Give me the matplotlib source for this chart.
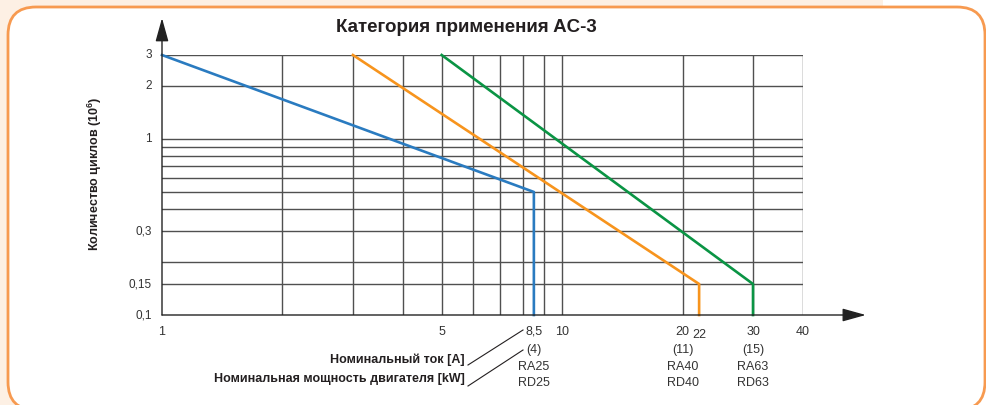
import matplotlib.pyplot as plt
from matplotlib.patches import FancyBboxPatch, Rectangle
from matplotlib.lines import Line2D

plt.rcParams['font.family'] = ['Liberation Sans', 'DejaVu Sans']
plt.rcParams['mathtext.fontset'] = 'custom'
plt.rcParams['mathtext.rm'] = 'Liberation Sans'
plt.rcParams['mathtext.bf'] = 'Liberation Sans:bold'

# Кривые износостойкости (ток, А -> циклы, 10^6)
blue_x = [1, 8.5, 8.5]
blue_y = [3, 0.5, 0.1]
orange_x = [3, 22, 22]
orange_y = [3, 0.15, 0.1]
green_x = [5, 30, 30]
green_y = [3, 0.15, 0.1]

grid_x = [2, 3, 4, 5, 6, 7, 8, 9, 10, 20, 30, 40]
grid_y = [0.15, 0.2, 0.3, 0.4, 0.5, 0.6, 0.7, 0.8, 0.9, 1, 2, 3]

x_ticks = [1, 5, 8.5, 10, 20, 22, 30, 40]
x_labels = ['1', '5', '8,5', '10', '20', '22', '30', '40']
y_ticks = [0.1, 0.15, 0.3, 1, 2, 3]
y_labels = ['0,1', '0,15', '0,3', '1', '2', '3']

rated_x = [8.5, 20, 30]
power_labels = ['(4)', '(11)', '(15)']
device_a = ['RA25', 'RA40', 'RA63']
device_d = ['RD25', 'RD40', 'RD63']

W, H = 986, 405
fig = plt.figure(figsize=(W / 100, H / 100), dpi=100)

# фон и рамка
fig.patches.append(Rectangle((0, 0), 883, H, transform=None,
                             facecolor='#fdf0e4', edgecolor='none', zorder=-3))
fig.patches.append(FancyBboxPatch((8, -5), 977, H - 7 + 5,
                                  boxstyle='round,pad=0,rounding_size=28',
                                  transform=None, facecolor='white',
                                  edgecolor='#f79a50', linewidth=2.0, zorder=-2))

ax = fig.add_axes([162 / W, (H - 315) / H, (803 - 162) / W, (315 - 55) / H])
ax.set_facecolor('none')
ax.set_xscale('log')
ax.set_yscale('log')
ax.set_xlim(1, 40)
ax.set_ylim(0.1, 3)
for s in ax.spines.values():
    s.set_visible(False)
ax.set_xticks([])
ax.set_yticks([])
ax.minorticks_off()

for gx in grid_x:
    ax.axvline(gx, color='#505050', lw=1.0, zorder=1)
for gy in grid_y:
    ax.axhline(gy, color='#505050', lw=1.0, zorder=1)

ax.plot(blue_x, blue_y, color='#2a7bc0', lw=1.9, zorder=3, clip_on=False)
ax.plot(orange_x, orange_y, color='#f7941d', lw=1.9, zorder=3, clip_on=False)
ax.plot(green_x, green_y, color='#0a9444', lw=1.9, zorder=3, clip_on=False)

# оси со стрелками
ax.annotate('', xy=(0, 1.142), xytext=(0, 0), xycoords='axes fraction',
            arrowprops=dict(arrowstyle='-|>,head_length=0.72,head_width=0.2',
                            mutation_scale=20, color='#222222', lw=1.0,
                            shrinkA=0, shrinkB=0), zorder=4)
ax.annotate('', xy=(1.098, 0), xytext=(0, 0), xycoords='axes fraction',
            arrowprops=dict(arrowstyle='-|>,head_length=0.72,head_width=0.2',
                            mutation_scale=20, color='#222222', lw=1.0,
                            shrinkA=0, shrinkB=0), zorder=4)

tick_kw = dict(fontsize=9, color='#333333', ha='center', va='center')
for x, lab in zip(x_ticks, x_labels):
    dy = -20 if lab == '22' else -17
    ax.annotate(lab, xy=(x, 0), xycoords=ax.get_xaxis_transform(),
                xytext=(0, dy), textcoords='offset pixels', **tick_kw)
for x, p, a, d in zip(rated_x, power_labels, device_a, device_d):
    for lab, dy in ((p, -35), (a, -52), (d, -68)):
        ax.annotate(lab, xy=(x, 0), xycoords=ax.get_xaxis_transform(),
                    xytext=(0, dy), textcoords='offset pixels', **tick_kw)
for y, lab in zip(y_ticks, y_labels):
    ax.annotate(lab, xy=(0, y), xycoords=ax.get_yaxis_transform(),
                xytext=(-10, 0), textcoords='offset pixels',
                fontsize=8.5, color='#333333', ha='right', va='center')

fig.text(466 / W, 1 - 28 / H, 'Категория применения AC-3', fontsize=13.5,
         fontweight='bold', color='#231f20', ha='center', va='center')
fig.text(95 / W, 1 - 174 / H, r'Количество циклов (10$^{\mathbf{6}}$)',
         fontsize=9, fontweight='bold', color='#231f20', rotation=90,
         ha='center', va='center')

fig.text(465 / W, 1 - 360 / H, 'Номинальный ток [A]', fontsize=9,
         fontweight='bold', color='#231f20', ha='right', va='center')
fig.text(465 / W, 1 - 379 / H, 'Номинальная мощность двигателя [kW]',
         fontsize=9, fontweight='bold', color='#231f20', ha='right', va='center')
fig.add_artist(Line2D([468 / W, 523 / W], [1 - 365 / H, 1 - 330 / H],
                      transform=fig.transFigure, color='#231f20', lw=0.8))
fig.add_artist(Line2D([468 / W, 523 / W], [1 - 386 / H, 1 - 350 / H],
                      transform=fig.transFigure, color='#231f20', lw=0.8))

fig.savefig('out.png', dpi=100)
